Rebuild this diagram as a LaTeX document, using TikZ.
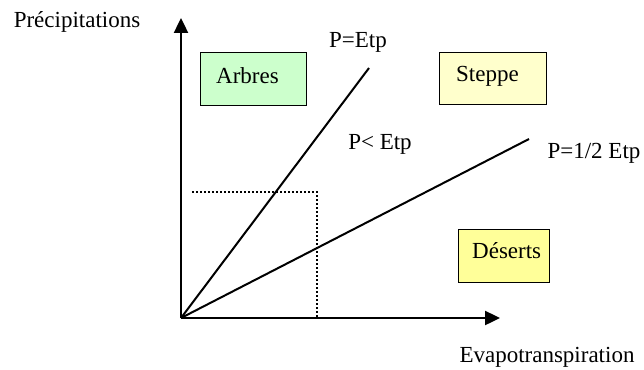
\documentclass[tikz,border=0pt]{standalone}
\usepackage{fontspec}
\setmainfont{Liberation Serif}
\usetikzlibrary{arrows.meta}
\begin{document}
\begin{tikzpicture}[x=1pt,y=-1pt,
  lbl/.style={font=\fontsize{23}{27}\selectfont, inner sep=0pt},
  zone/.style={draw=black, line width=0.8pt, font=\fontsize{23}{27}\selectfont, anchor=north west, inner sep=0pt, text depth=0pt},
  axis/.style={line width=2.4pt, -{Triangle[length=15pt,width=14pt]}},
  ratio/.style={line width=2pt},
  guide/.style={line width=1.6pt, dash pattern=on 1.6pt off 2.4pt}]
\useasboundingbox (0,0) rectangle (644,369);
\coordinate (O) at (181,318);
\coordinate (ytip) at (181,18);
\coordinate (xtip) at (500,318);
\coordinate (e1) at (369,68);
\coordinate (e2) at (529,139);
\coordinate (d1) at (192,192);
\coordinate (d2) at (317,192);
\coordinate (d3) at (317,318);
% boxes
\node[zone, fill={rgb,255:red,204;green,255;blue,204}, minimum width=106pt, minimum height=53pt] (arbres) at (200,52) {};
\node[lbl, anchor=west] (arbrest) at (216,76) {Arbres};
\node[zone, fill={rgb,255:red,255;green,255;blue,204}, minimum width=107pt, minimum height=52pt] (steppe) at (439,52) {};
\node[lbl, anchor=west] (steppet) at (456,76) {Steppe};
\node[zone, fill={rgb,255:red,255;green,255;blue,153}, minimum width=91pt, minimum height=53pt] (deserts) at (458,229) {};
\node[lbl, anchor=west] (desertst) at (472,251) {Déserts};
% guide
\draw[guide] (d1) -- (d2) -- (d3);
% lines
\draw[ratio] (O) -- (e1);
\draw[ratio] (O) -- (e2);
% axes
\draw[axis] (O) -- (ytip);
\draw[axis] (O) -- (xtip);
% labels
\node[lbl] (prec) at (77,22) {Précipitations};
\node[lbl] (evap) at (547,357) {Evapotranspiration};
\node[lbl] (petp) at (358,42) {P=Etp};
\node[lbl] (pless) at (380,144) {P< Etp};
\node[lbl] (phalf) at (594,153) {P=1/2 Etp};
\end{tikzpicture}
\end{document}
